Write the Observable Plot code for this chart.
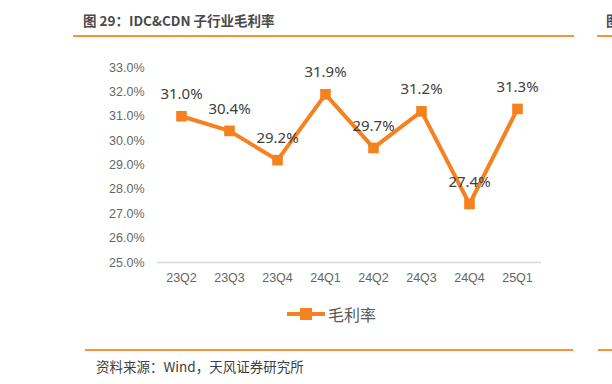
<!DOCTYPE html>
<html><head><meta charset="utf-8">
<script src="https://cdn.jsdelivr.net/npm/d3@7"></script>
<script src="https://cdn.jsdelivr.net/npm/@observablehq/plot@0.6"></script>
<style>
html,body{margin:0;padding:0;background:#fff;}
#wrap{position:relative;width:612px;height:384px;overflow:hidden;font-family:"Noto Sans CJK SC","Noto Sans",sans-serif;}
.abs{position:absolute;white-space:nowrap;}
.hr{position:absolute;height:2px;background:#F7923A;}
</style></head>
<body><div id="wrap"></div>
<script>
const quarters = ["23Q2","23Q3","23Q4","24Q1","24Q2","24Q3","24Q4","25Q1"];
const grossMargin = [31.0, 30.4, 29.2, 31.9, 29.7, 31.2, 27.4, 31.3];
const yTicks = [25,26,27,28,29,30,31,32,33];
const titleText = "图 29：IDC&CDN 子行业毛利率";
const seriesName = "毛利率";
const sourceText = "资料来源：Wind，天风证券研究所";

const data = quarters.map((q,i)=>({q, v: grossMargin[i]}));
const orange = "#F58220";

const chart = Plot.plot({
  width: 612, height: 384,
  marginLeft: 157, marginRight: 71, marginTop: 67, marginBottom: 122,
  style: {fontFamily: "'Liberation Sans', Arial, sans-serif", fontSize: "12.5px", color: "#666666", background: "transparent"},
  x: {type: "band", domain: quarters, padding: 0, label: null},
  y: {domain: [25,33], label: null},
  marks: [
    Plot.axisY({ticks: yTicks, tickFormat: d => d.toFixed(1)+"%", tickSize: 0, tickPadding: 13, fontSize: 12.5, label: null}),
    Plot.axisX({tickSize: 0, tickPadding: 11, fontSize: 12.5, label: null}),
    Plot.ruleY([25], {stroke: "#d9d9d9", strokeWidth: 1.5}),
    Plot.line(data, {x: "q", y: "v", stroke: orange, strokeWidth: 4, strokeLinejoin: "miter"}),
    Plot.dot(data, {x: "q", y: "v", symbol: "square", r: 6, fill: orange, stroke: null}),
    Plot.text(data, {x: "q", y: "v", text: d => d.v.toFixed(1)+"%", dy: -22, fontSize: 15, fill: "#404040", fontFamily: "'Noto Sans', sans-serif"})
  ]
});
chart.style.position = "absolute";
chart.style.left = "0px";
chart.style.top = "0px";
const wrap = document.getElementById("wrap");
wrap.appendChild(chart);

function add(html, style){const d=document.createElement("div");d.className="abs";d.innerHTML=html;Object.assign(d.style,style);wrap.appendChild(d);return d;}
add(titleText.replace(/&/g,"&amp;"), {left:"83px", top:"10px", fontSize:"13.5px", fontWeight:"bold", color:"#4a4a4a", lineHeight:"20px"});
add("图", {left:"606px", top:"10px", fontSize:"13.5px", fontWeight:"bold", color:"#4a4a4a", lineHeight:"20px"});
const h1=document.createElement("div");h1.className="hr";Object.assign(h1.style,{left:"73px",top:"35px",width:"501px"});wrap.appendChild(h1);
const h2=document.createElement("div");h2.className="hr";Object.assign(h2.style,{left:"597px",top:"35px",width:"20px"});wrap.appendChild(h2);
const h3=document.createElement("div");h3.className="hr";Object.assign(h3.style,{left:"85px",top:"349px",width:"488px"});wrap.appendChild(h3);
const h4=document.createElement("div");h4.className="hr";Object.assign(h4.style,{left:"598px",top:"349px",width:"20px"});wrap.appendChild(h4);
// legend
add(`<svg width="40" height="14" style="vertical-align:middle"><line x1="0" y1="7" x2="38" y2="7" stroke="${orange}" stroke-width="4"/><rect x="13" y="1" width="12" height="12" fill="${orange}"/></svg><span style="vertical-align:middle;margin-left:1px">${seriesName}</span>`,
  {left:"287px", top:"300px", fontSize:"16px", color:"#595959", lineHeight:"22px"});
add(sourceText, {left:"96px", top:"356px", fontSize:"13.5px", color:"#404040", lineHeight:"20px"});
</script></body></html>
